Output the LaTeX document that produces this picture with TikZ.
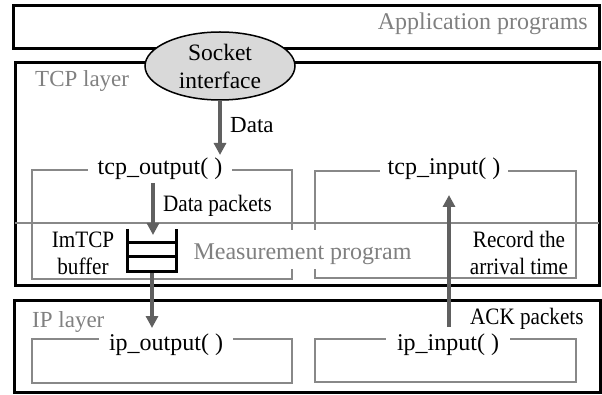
\documentclass[tikz,border=0pt]{standalone}
\usepackage{fontspec}
\setmainfont{Liberation Serif}
\newfontfamily\narrowserif{Liberation Serif}[FakeStretch=0.9]
\usetikzlibrary{arrows.meta,shapes.geometric}
\definecolor{boxgray}{RGB}{136,136,136}
\definecolor{txtgray}{RGB}{128,128,128}
\definecolor{arrgray}{RGB}{96,96,96}
\definecolor{ellfill}{RGB}{217,217,217}
\begin{document}
\begin{tikzpicture}[x=1pt,y=-1pt,
  every node/.style={font=\fontsize{24}{27}\selectfont,inner sep=0pt},
  smalltxt/.style={font=\narrowserif\fontsize{23.5}{27}\selectfont},
  layerbox/.style={draw=black,line width=3pt},
  funcbox/.style={draw=boxgray,line width=2pt},
  graytxt/.style={text=txtgray},
  funclbl/.style={fill=white,anchor=base,inner xsep=10pt,inner ysep=0pt},
  flowarrow/.style={draw=arrgray,line width=4pt,-{Triangle[width=12pt,length=12pt]}},
  bufline/.style={draw=black,line width=3pt}]
\useasboundingbox (0,0) rectangle (602,395);
% layers
\draw[layerbox] (13,6) rectangle (599,49);
\draw[layerbox] (15,63) rectangle (599,285);
\draw[layerbox] (14,300) rectangle (600,392);
% measurement line
\draw[draw=boxgray,line width=2pt] (15,223) -- (599,223);
% function boxes
\draw[funcbox] (32,170) rectangle (292,279);
\draw[funcbox] (315,171) rectangle (576,278);
\draw[funcbox] (32,339) rectangle (292,383);
\draw[funcbox] (315,339) rectangle (576,382);
% labels on boxes
\node[funclbl] (tcpout) at (160,175) {tcp\_output( )};
\node[funclbl,inner xsep=8pt] (tcpin) at (444,175) {tcp\_input( )};
\node[funclbl] (ipout) at (166,350) {ip\_output( )};
\node[funclbl,inner xsep=11pt] (ipin) at (448,350) {ip\_input( )};
\node[graytxt,fill=white,anchor=base,text height=29pt,text depth=10pt,inner xsep=2pt] (meas) at (302.5,259) {Measurement program};
% layer titles
\node[graytxt,anchor=base east] (app) at (588,30) {Application programs};
\node[graytxt,anchor=base west,font=\fontsize{23}{27}\selectfont] (tcpl) at (35,87) {TCP layer};
\node[graytxt,anchor=base west,font=\fontsize{23}{27}\selectfont] (ipl) at (32,327) {IP layer};
% socket
\node[ellipse,draw=black,line width=1.5pt,fill=ellfill,minimum width=150pt,minimum height=68pt,align=center,font=\fontsize{23.5}{27}\selectfont] (sock) at (220,66) {Socket\\[1pt]interface};
% buffer
\coordinate (btl) at (127,229);
\coordinate (bbl) at (127,272);
\coordinate (bbr) at (176,272);
\coordinate (btr) at (176,229);
\draw[bufline] (btl) -- (bbl) -- (bbr) -- (btr);
\draw[bufline] (127,243) -- (176,243);
\draw[bufline] (127,257) -- (176,257);
\node[smalltxt,align=center] (buf) at (83,253) {ImTCP\\buffer};
% other labels
\node[anchor=base west,font=\fontsize{23}{27}\selectfont] (data) at (230,133) {Data};
\node[smalltxt,anchor=base west] (dpk) at (163,212) {Data packets};
\node[smalltxt,align=center] (rec) at (519,253) {Record the\\arrival time};
\node[smalltxt,anchor=base west] (ack) at (470,324) {ACK packets};
% arrows
\coordinate (dtip) at (220,155);
\coordinate (dps) at (153,183);
\coordinate (dpt) at (153,235);
\coordinate (bos) at (152,273);
\coordinate (bot) at (152,328);
\coordinate (acs) at (449,327);
\coordinate (act) at (449,195);
\draw[flowarrow] (sock.south) -- (dtip);
\draw[flowarrow] (dps) -- (dpt);
\draw[flowarrow] (bos) -- (bot);
\draw[flowarrow] (acs) -- (act);
\end{tikzpicture}
\end{document}
